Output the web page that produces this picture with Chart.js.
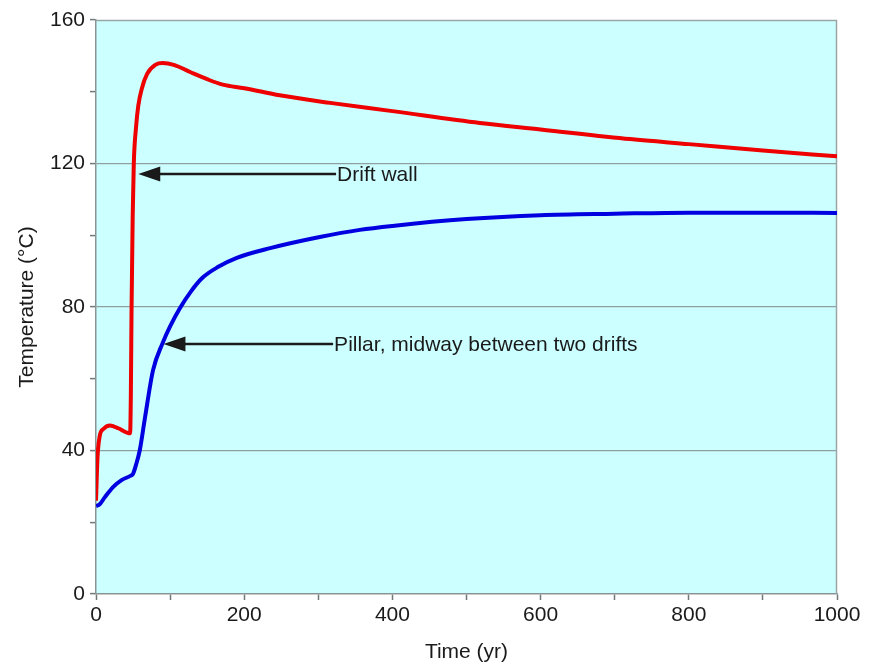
<!DOCTYPE html>
<html>
<head>
  <title>Drift wall and pillar temperature</title>
  <script src="https://cdn.jsdelivr.net/npm/chart.js"></script>
  <style>
    body {
      margin: 0;
      background: #ffffff;
    }
    #wrap {
      width: 884px;
      height: 665px;
    }
  </style>
</head>
<body>
  <div id="wrap">
    <canvas id="myChart" width="884" height="665"></canvas>
  </div>
  <script>
    // Drift wall (red)
    const wallYears = [0, 2, 5, 10, 19, 30, 46, 47, 48, 49.5, 51, 54, 57, 62, 69, 80, 90, 105, 127, 150, 171, 200, 248, 316, 400, 518, 600, 721, 800, 900, 1000];
    const wallTemp = [26, 38, 44, 46, 47, 46.2, 44.8, 55, 80, 105, 120, 130, 136, 141, 145, 147.5, 148, 147.5, 145.5, 143.5, 142, 141, 139, 136.9, 134.6, 131.3, 129.5, 126.8, 125.4, 123.6, 122];

    // Pillar (blue)
    const pillarYears = [0, 5, 12, 23, 35, 47, 50, 54, 59, 66, 77, 90, 100, 113, 128, 144, 165, 190, 235, 302, 356, 400, 500, 600, 700, 800, 900, 1000];
    const pillarTemp = [24.5, 25, 27, 29.8, 31.8, 33, 33.5, 36, 40, 49, 62.4, 70, 74.6, 79.6, 84.3, 88.2, 91.2, 93.7, 96.4, 99.5, 101.5, 102.6, 104.5, 105.6, 106, 106.3, 106.3, 106.2];

    // arrow annotations (data coords)
    const noteText = ['Drift wall', 'Pillar, midway between two drifts'];
    const noteTipX = [57, 91];
    const noteTailX = [324, 320];
    const noteY = [117.1, 69.7];

    const xTicks = [0, 200, 400, 600, 800, 1000];
    const yTicks = [0, 40, 80, 120, 160];

    const FONT = "'Liberation Sans', Arial, sans-serif";
    const FSIZE = 21;
    const TXT = '#1a1a1a';

    function pts(xs, ys) {
      return xs.map((x, i) => ({ x: x, y: ys[i] }));
    }

    const plotFrame = {
      id: 'plotFrame',
      beforeDraw(chart) {
        const { ctx, chartArea: a } = chart;
        ctx.save();
        ctx.fillStyle = '#ccffff';
        ctx.fillRect(a.left, a.top, a.right - a.left, a.bottom - a.top);
        ctx.restore();
      },
      beforeDatasetsDraw(chart) {
        const { ctx, chartArea: a } = chart;
        ctx.save();
        ctx.strokeStyle = '#9aa6a6';
        ctx.lineWidth = 1.5;
        ctx.beginPath();
        ctx.moveTo(a.left, a.top + 0.5);
        ctx.lineTo(a.right - 0.5, a.top + 0.5);
        ctx.lineTo(a.right - 0.5, a.bottom);
        ctx.stroke();
        ctx.restore();
      },
      afterDatasetsDraw(chart) {
        const { ctx } = chart;
        const xs = chart.scales.x, ys = chart.scales.y;
        ctx.save();
        ctx.strokeStyle = TXT;
        ctx.fillStyle = TXT;
        ctx.lineWidth = 2.5;
        ctx.font = FSIZE + 'px ' + FONT;
        ctx.textBaseline = 'middle';
        ctx.textAlign = 'left';
        for (let i = 0; i < noteText.length; i++) {
          const tip = xs.getPixelForValue(noteTipX[i]);
          const tail = xs.getPixelForValue(noteTailX[i]);
          const y = ys.getPixelForValue(noteY[i]);
          ctx.beginPath();
          ctx.moveTo(tip + 14, y);
          ctx.lineTo(tail, y);
          ctx.stroke();
          ctx.beginPath();
          ctx.moveTo(tip, y);
          ctx.lineTo(tip + 22, y - 7.5);
          ctx.lineTo(tip + 22, y + 7.5);
          ctx.closePath();
          ctx.fill();
          ctx.fillText(noteText[i], tail + 1, y + 1);
        }
        ctx.restore();
      }
    };

    const ctx = document.getElementById('myChart').getContext('2d');
    new Chart(ctx, {
      type: 'line',
      data: {
        datasets: [{
          label: 'Drift wall',
          data: pts(wallYears, wallTemp),
          borderColor: '#ee0000',
          borderWidth: 4,
          pointRadius: 0,
          cubicInterpolationMode: 'monotone',
          fill: false
        },
        {
          label: 'Pillar, midway between two drifts',
          data: pts(pillarYears, pillarTemp),
          borderColor: '#0000e0',
          borderWidth: 4,
          pointRadius: 0,
          cubicInterpolationMode: 'monotone',
          fill: false
        }]
      },
      options: {
        responsive: false,
        animation: false,
        layout: {
          padding: { top: 20, right: 47, left: 0, bottom: 0 }
        },
        plugins: {
          legend: { display: false },
          tooltip: { enabled: false }
        },
        scales: {
          x: {
            type: 'linear',
            min: 0,
            max: 1000,
            afterFit: (s) => { s.height = 71; },
            border: { color: '#8a9494', width: 1.5 },
            grid: {
              drawOnChartArea: false,
              tickLength: 6,
              tickColor: '#707878',
              tickWidth: 1.5
            },
            ticks: {
              stepSize: 100,
              maxRotation: 0,
              autoSkip: false,
              padding: 3,
              color: TXT,
              font: { family: FONT, size: FSIZE },
              callback: (v) => xTicks.includes(v) ? v : ''
            },
            title: {
              display: true,
              text: 'Time (yr)',
              color: TXT,
              font: { family: FONT, size: FSIZE },
              padding: { top: 0, bottom: 0 }
            }
          },
          y: {
            min: 0,
            max: 160,
            afterFit: (s) => { s.width = 96; },
            border: { color: '#8a9494', width: 1.5 },
            grid: {
              color: (c) => (c.tick && c.tick.value % 40 === 0 && c.tick.value > 0 && c.tick.value < 160) ? '#8fa0a0' : 'rgba(0,0,0,0)',
              lineWidth: 1.2,
              tickLength: 6,
              tickColor: '#707878',
              tickWidth: 1.5
            },
            ticks: {
              stepSize: 20,
              autoSkip: false,
              padding: 5,
              color: TXT,
              font: { family: FONT, size: FSIZE },
              callback: (v) => yTicks.includes(v) ? v : ''
            },
            title: {
              display: true,
              text: 'Temperature (°C)',
              color: TXT,
              font: { family: FONT, size: FSIZE },
              padding: { top: 15, bottom: 0 }
            }
          }
        }
      },
      plugins: [plotFrame]
    });
  </script>
</body>
</html>
